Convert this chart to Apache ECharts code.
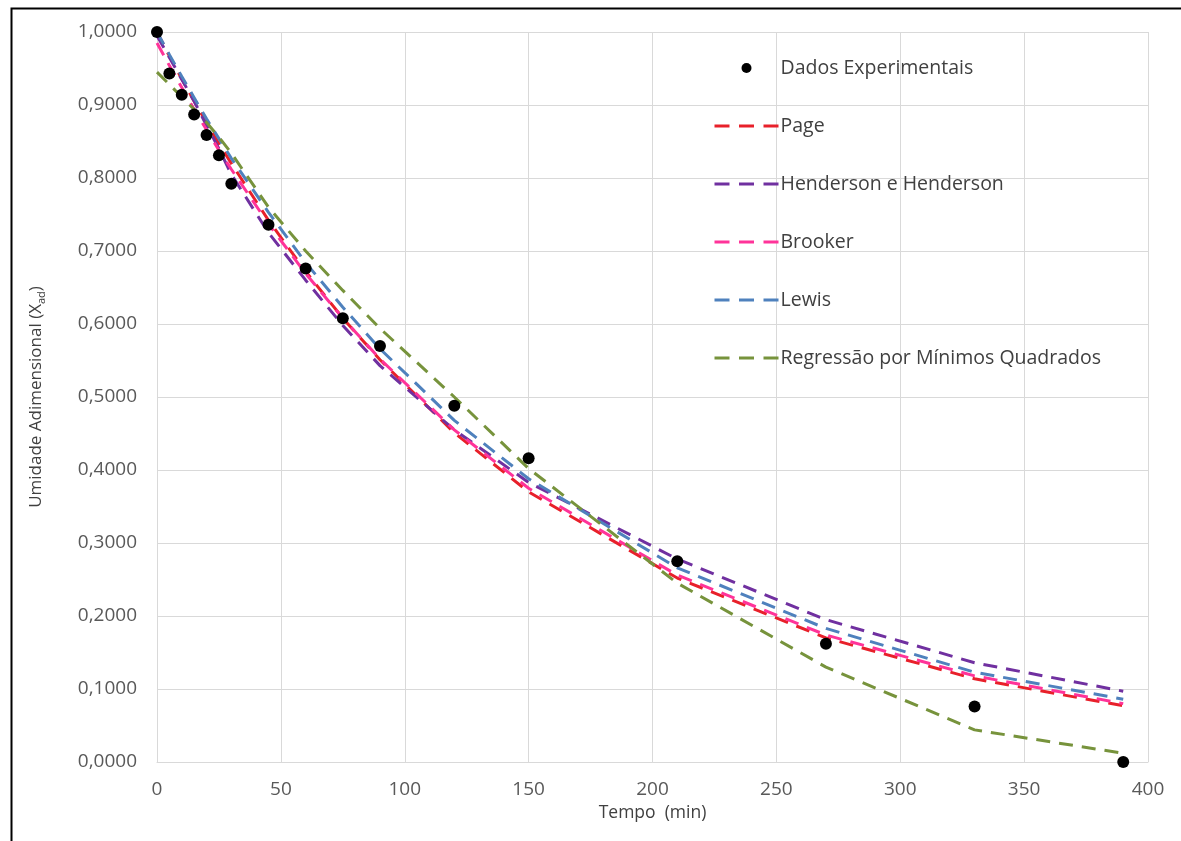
<!DOCTYPE html>
<html>
<head>
<meta charset="utf-8">
<script src="https://cdn.jsdelivr.net/npm/echarts@6/dist/echarts.min.js"></script>
<style>
html,body{margin:0;padding:0;background:#fff;}
#c{width:1181px;height:841px;}
</style>
</head>
<body>
<div id="c"></div>
<script>
// Time points (min)
const tempo = [0, 5, 10, 15, 20, 25, 30, 45, 60, 75, 90, 120, 150, 210, 270, 330, 390];
// Experimental data
const dadosExperimentais = [1.0, 0.943, 0.914, 0.887, 0.859, 0.831, 0.792, 0.736, 0.676, 0.608, 0.570, 0.488, 0.416, 0.275, 0.162, 0.076, 0.0];
// Model curves
const page = [1.0, 0.967, 0.936, 0.905, 0.876, 0.847, 0.820, 0.742, 0.672, 0.608, 0.551, 0.451, 0.370, 0.252, 0.170, 0.114, 0.077];
const henderson = [0.995, 0.965, 0.935, 0.905, 0.872, 0.840, 0.805, 0.725, 0.660, 0.598, 0.543, 0.455, 0.383, 0.278, 0.195, 0.136, 0.097];
const brooker = [0.985, 0.954, 0.924, 0.894, 0.866, 0.838, 0.812, 0.737, 0.669, 0.608, 0.552, 0.455, 0.375, 0.256, 0.174, 0.118, 0.080];
const lewis = [1.0, 0.969, 0.939, 0.910, 0.881, 0.854, 0.827, 0.753, 0.684, 0.623, 0.566, 0.468, 0.388, 0.266, 0.183, 0.123, 0.086];
const regressao = [0.945, 0.928, 0.911, 0.894, 0.876, 0.856, 0.834, 0.760, 0.700, 0.646, 0.594, 0.500, 0.402, 0.245, 0.130, 0.044, 0.012];
const xTicks = [0, 50, 100, 150, 200, 250, 300, 350, 400];
const legendNames = ['Dados Experimentais', 'Page', 'Henderson e Henderson', 'Brooker', 'Lewis', 'Regressão por Mínimos Quadrados'];

const pair = arr => tempo.map((t, i) => [t, arr[i]]);
const FONT = '"Open Sans", "Noto Sans", sans-serif';
const dash = [14, 9];

const chart = echarts.init(document.getElementById('c'), null, {renderer: 'canvas'});

function lineSeries(name, data, color) {
  return {
    name: name, type: 'line', data: pair(data), symbol: 'none', showSymbol: false, smooth: false,
    lineStyle: {color: color, width: 3, type: dash},
    itemStyle: {color: color}, z: 2, animation: false
  };
}

chart.setOption({
  backgroundColor: '#ffffff',
  animation: false,
  grid: {left: 157, right: 33, top: 32, bottom: 79, containLabel: false},
  xAxis: {
    type: 'value', min: 0, max: 400, interval: 50,
    name: 'Tempo  (min)', nameLocation: 'middle', nameGap: 40,
    nameTextStyle: {fontFamily: FONT, fontSize: 17.5, color: '#404040'},
    axisLine: {show: true, lineStyle: {color: '#d9d9d9', width: 1}},
    axisTick: {show: false},
    axisLabel: {fontFamily: FONT, fontSize: 19, color: '#595959', margin: 18,
      formatter: v => xTicks.includes(v) ? String(v) : ''},
    splitLine: {show: true, lineStyle: {color: '#d9d9d9', width: 1}}
  },
  yAxis: {
    type: 'value', min: 0, max: 1, interval: 0.1,
    name: '{a|Umidade Adimensional (X}{s|ad}{a|)}', nameLocation: 'middle', nameGap: 110, nameRotate: 90,
    nameTextStyle: {
      rich: {
        a: {fontFamily: FONT, fontSize: 17, color: '#404040', lineHeight: 22},
        s: {fontFamily: FONT, fontSize: 11, color: '#404040', verticalAlign: 'bottom', lineHeight: 15, padding: [7, 0, 0, 0]}
      }
    },
    axisLine: {show: true, lineStyle: {color: '#d9d9d9', width: 1}},
    axisTick: {show: false},
    axisLabel: {fontFamily: FONT, fontSize: 19, color: '#595959', margin: 20,
      formatter: v => v.toFixed(4).replace('.', ',')},
    splitLine: {show: true, lineStyle: {color: '#d9d9d9', width: 1}}
  },
  legend: {
    orient: 'vertical', left: 708, top: 53,
    itemWidth: 64, itemHeight: 10, itemGap: 38,
    lineStyle: {type: [15, 9.5], width: 3},
    textStyle: {fontFamily: FONT, fontSize: 19.5, color: '#404040', lineHeight: 20, padding: [0, 0, 0, -3]},
    data: legendNames.map((n, i) => i === 0
      ? {name: n, icon: 'circle'}
      : {name: n, itemStyle: {opacity: 0}})
  },
  graphic: [{
    type: 'rect', left: 9, top: 6, silent: true,
    shape: {x: 0, y: 0, width: 1300, height: 900},
    style: {fill: 'none', stroke: '#000', lineWidth: 2}, z: 100
  }],
  series: [
    {
      name: 'Dados Experimentais', type: 'scatter', data: pair(dadosExperimentais),
      symbol: 'circle', symbolSize: 12, itemStyle: {color: '#000000', opacity: 1}, z: 5
    },
    lineSeries('Page', page, '#e8202a'),
    lineSeries('Henderson e Henderson', henderson, '#7030a0'),
    lineSeries('Brooker', brooker, '#ff3399'),
    lineSeries('Lewis', lewis, '#4f81bd'),
    lineSeries('Regressão por Mínimos Quadrados', regressao, '#77933c')
  ]
});
</script>
</body>
</html>
